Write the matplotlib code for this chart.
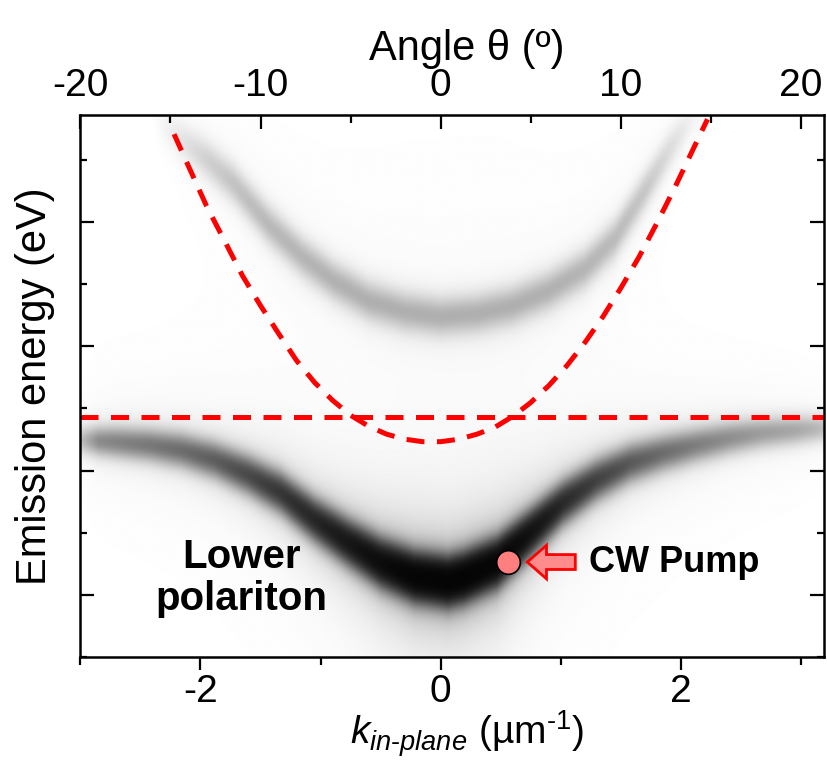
import numpy as np
import matplotlib
matplotlib.use("Agg")
import matplotlib.pyplot as plt
from matplotlib.patches import FancyArrow
from matplotlib.ticker import MultipleLocator, FixedLocator

plt.rcParams['font.family'] = ['Liberation Sans', 'DejaVu Sans']
plt.rcParams['axes.unicode_minus'] = False
plt.rcParams['mathtext.fontset'] = 'custom'
plt.rcParams['mathtext.rm'] = 'Liberation Sans'
plt.rcParams['mathtext.it'] = 'Liberation Sans:italic'

# ======================================================
# data (k in um^-1, energy in eV)
# ======================================================
# lower polariton branch: centre, strength, line width
lp_k = [-2.99, -2.85, -2.71, -2.43, -2.16, -1.88, -1.60, -1.33, -1.05, -0.77, -0.50, -0.22,
        0.06, 0.19, 0.47, 0.75, 1.02, 1.30, 1.58, 1.85, 2.13, 2.41, 2.68, 2.96, 3.19]
lp_e = [1.6622, 1.6618, 1.6614, 1.6602, 1.6581, 1.6541, 1.6481, 1.6409, 1.6301, 1.6209, 1.6128, 1.6072,
        1.6052, 1.6068, 1.6128, 1.6249, 1.6369, 1.6461, 1.6529, 1.6569, 1.6602, 1.6630, 1.6650, 1.6662, 1.6670]
lp_amp = [0.30, 0.60, 0.66, 0.75, 0.85, 1.00, 1.25, 1.55, 1.90, 2.40, 3.00, 3.80,
          4.00, 4.00, 3.60, 2.60, 1.80, 1.35, 1.05, 0.85, 0.70, 0.58, 0.48, 0.42, 0.30]
lp_w = [0.0036, 0.0038, 0.0040, 0.0042, 0.0044, 0.0046, 0.0048, 0.0050, 0.0052, 0.0054, 0.0056, 0.0056,
        0.0056, 0.0056, 0.0056, 0.0054, 0.0052, 0.0050, 0.0048, 0.0046, 0.0044, 0.0042, 0.0040, 0.0038, 0.0036]

# upper polariton branch
up_k = [-2.40, -2.20, -1.95, -1.72, -1.44, -1.16, -0.89, -0.60, -0.30, 0.00,
        0.30, 0.60, 0.90, 1.20, 1.45, 1.70, 1.90, 2.10, 2.30]
up_e = [1.7930, 1.7845, 1.7752, 1.7652, 1.7492, 1.7363, 1.7263, 1.7183, 1.7139, 1.7119,
        1.7131, 1.7163, 1.7223, 1.7311, 1.7432, 1.7624, 1.7784, 1.7925, 1.8000]
up_amp = [0.00, 0.09, 0.20, 0.27, 0.32, 0.34, 0.36, 0.37, 0.37, 0.37,
          0.37, 0.37, 0.36, 0.34, 0.31, 0.25, 0.15, 0.05, 0.00]
up_w = [0.0052] * len(up_k)

# bare cavity photon (dashed curve) and exciton level
ph_k = [-2.22, -2.10, -1.95, -1.80, -1.65, -1.50, -1.35, -1.20, -1.05, -0.90, -0.75,
        -0.60, -0.45, -0.30, -0.15, 0.00, 0.15, 0.30, 0.45, 0.60, 0.75, 0.90,
        1.05, 1.20, 1.35, 1.50, 1.65, 1.80, 1.95, 2.10, 2.22]
ph_e = [1.7853, 1.7724, 1.7564, 1.7424, 1.7283, 1.7163, 1.7051, 1.6942, 1.6854, 1.6782, 1.6722,
        1.6678, 1.6646, 1.6626, 1.6616, 1.6616, 1.6626, 1.6646, 1.6674, 1.6718, 1.6774, 1.6842,
        1.6922, 1.7015, 1.7119, 1.7235, 1.7359, 1.7496, 1.7640, 1.7792, 1.7913]
exciton_e = 1.6714

# pump position
pump_k = 0.56
pump_e = 1.6132

angle_ticks = [-20, -10, 0, 10, 20]
angle_minor = [-15, -5, 5, 15]

k_min, k_max = -3.003, 3.19
e_min, e_max = 1.575, 1.793

# ======================================================
# emission map
# ======================================================
kk = np.linspace(k_min, k_max, 700)
ee = np.linspace(e_min, e_max, 700)
K, E = np.meshgrid(kk, ee)

inten = np.zeros_like(K)
for bk, be, ba, bw in [(lp_k, lp_e, lp_amp, lp_w), (up_k, up_e, up_amp, up_w)]:
    c = np.interp(kk, bk, be)[None, :]
    a = np.interp(kk, bk, ba)[None, :]
    s = np.interp(kk, bk, bw)[None, :]
    d = E - c
    g = 1.5 * s
    inten += a * (0.7 * np.exp(-d ** 2 / (2 * s ** 2)) + 0.3 * g ** 2 / (d ** 2 + g ** 2))
img = 1 - np.exp(-inten)   # detector saturation

# ======================================================
# plot
# ======================================================
fig = plt.figure(figsize=(8.27, 7.61), dpi=100)
ax = fig.add_axes([80 / 827, 104 / 761, 744 / 827, 542 / 761])

ax.imshow(img, extent=[k_min, k_max, e_min, e_max], origin='lower', aspect='auto',
          cmap='gray_r', vmin=0, vmax=1, interpolation='bilinear')

dash = (0, (3.6, 2.5))
ax.axhline(exciton_e, color='#ff0000', lw=3.6, linestyle=dash)
ax.plot(ph_k, ph_e, color='#ff0000', lw=3.6, linestyle=dash)

ax.plot(pump_k, pump_e, 'o', ms=17, mfc='#ff7f7f', mec='black', mew=1.2, zorder=5)
ax.add_patch(FancyArrow(1.12, pump_e, -0.40, 0, width=0.0060, head_width=0.0135,
                        head_length=0.16, length_includes_head=True,
                        fc='#ff8c8c', ec='#ff0000', lw=2, zorder=5))
ax.text(1.23, pump_e, "CW Pump", fontsize=26, fontweight='bold',
        ha='left', va='center')
ax.text(-1.66, 1.6068, "Lower\npolariton", fontsize=29, fontweight='bold',
        ha='center', va='center', multialignment='center', linespacing=1.15)

ax.set_xlim(k_min, k_max)
ax.set_ylim(e_min, e_max)

# bottom axis
ax.xaxis.set_major_locator(MultipleLocator(2))
ax.xaxis.set_minor_locator(MultipleLocator(1))
ax.tick_params(axis='x', which='major', direction='out', length=9, width=1.6, labelsize=28, pad=3)
ax.tick_params(axis='x', which='minor', direction='out', length=6, width=1.6)
ax.set_xlabel(r'$k_{in\text{-}plane}$ (µm$^{\text{-}1}$)', fontsize=28, labelpad=-1)
ax.xaxis.label.set_x(0.52)

# energy axis (no numbers)
ax.yaxis.set_major_locator(MultipleLocator(0.05))
ax.yaxis.set_minor_locator(MultipleLocator(0.025))
ax.tick_params(axis='y', which='both', direction='in', left=True, right=True,
               labelleft=False, width=1.6)
ax.tick_params(axis='y', which='major', length=10)
ax.tick_params(axis='y', which='minor', length=5)
ax.set_ylabel("Emission energy (eV)", fontsize=30, labelpad=18)

for s in ax.spines.values():
    s.set_linewidth(1.8)

# angle axis on top
top = ax.secondary_xaxis('top', functions=(lambda k: k * 20 / 3, lambda a: a * 3 / 20))
top.xaxis.set_major_locator(FixedLocator(angle_ticks))
top.xaxis.set_minor_locator(FixedLocator(angle_minor))
top.tick_params(which='major', direction='in', length=10, width=1.6, labelsize=28, pad=8)
top.tick_params(which='minor', direction='in', length=6, width=1.6)
top.set_xlabel("Angle θ (º)", fontsize=30, labelpad=6)
top.xaxis.label.set_x(0.52)

fig.savefig("out.png", dpi=100)
